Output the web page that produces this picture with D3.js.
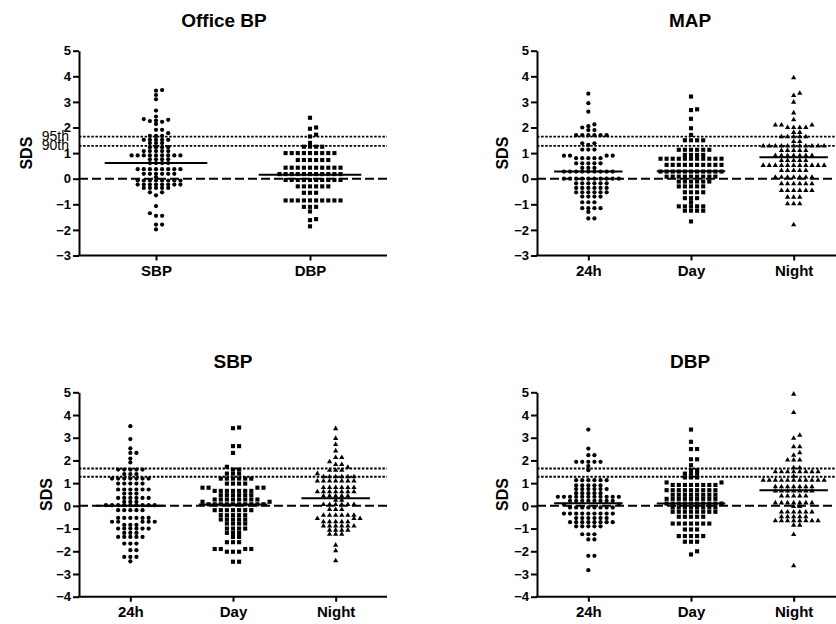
<!DOCTYPE html>
<html>
<head>
<meta charset="utf-8">
<script src="https://cdn.jsdelivr.net/npm/d3@7/dist/d3.min.js"></script>
<style>
  body { margin: 0; background: #fff; }
  text { font-family: 'Liberation Sans', Arial, sans-serif; fill: #000; }
</style>
</head>
<body>
<svg id="chart" width="836" height="624"></svg>
<script>
// categories and ticks
const officeCats = ['SBP', 'DBP']
const ambCats = ['24h', 'Day', 'Night']
const ticksA = [-3, -2, -1, 0, 1, 2, 3, 4, 5]
const ticksB = [-4, -3, -2, -1, 0, 1, 2, 3, 4, 5]
const percentiles = [1.645, 1.282]
const percentileLabels = ['95th', '90th']

// SDS values
const officeSBP = [3.46, 3.44, 3.27, 3.10, 2.66, 2.43,
  2.33, 2.30, 2.27, 2.25, 2.22, 2.14, 1.91, 1.91, 1.78, 1.67, 1.67, 1.67,
  1.52, 1.52, 1.52, 1.52, 1.52, 1.39, 1.39, 1.39, 1.23, 1.23, 1.23, 1.23,
  1.08, 1.08, 1.08, 1.08, 1.08, 0.91, 0.91, 0.91, 0.91, 0.91, 0.91, 0.91, 0.91, 0.91,
  0.76, 0.76, 0.76, 0.76, 0.61, 0.61, 0.61, 0.61,
  0.37, 0.37, 0.37, 0.37, 0.37, 0.37, 0.37, 0.37, 0.19, 0.19, 0.19, 0.19, 0.19, 0.19, 0.06,
  -0.07, -0.07, -0.07, -0.07, -0.07, -0.07, -0.07, -0.07,
  -0.23, -0.23, -0.23, -0.23, -0.23, -0.23, -0.23, -0.23,
  -0.36, -0.36, -0.36, -0.36, -0.36, -0.53, -0.53, -0.65,
  -1.07, -1.35, -1.45, -1.45, -1.79, -1.79, -1.98]
const officeDBP = [2.38, 2.0, 1.95, 1.72, 1.65, 1.4, 1.25, 1.25, 1.25, 1.25,
  1.0, 1.0, 1.0, 1.0, 1.0, 1.0, 1.0, 1.0, 1.0, 0.73, 0.73, 0.73, 0.73, 0.73, 0.73,
  0.43, 0.43, 0.43, 0.43, 0.43, 0.43, 0.43, 0.43, 0.43, 0.43,
  0.18, 0.18, 0.18, 0.18, 0.18, 0.18, 0.18, 0.18, 0.18, 0.18, 0.18,
  -0.05, -0.05, -0.05, -0.05, -0.05, -0.05, -0.05, -0.05, -0.05, -0.05,
  -0.3, -0.3, -0.3, -0.3, -0.3, -0.3, -0.55, -0.55, -0.55,
  -0.85, -0.85, -0.85, -0.85, -0.85, -0.85, -0.85, -0.85, -0.85, -0.85,
  -1.1, -1.1, -1.1, -1.28, -1.58, -1.62, -1.86]

const map24h = [3.32, 2.95, 2.62, 2.12, 2.05, 2.0, 1.9, 1.9,
  1.7, 1.7, 1.7, 1.7, 1.7, 1.7, 1.38, 1.38, 1.32, 1.14, 1.14, 1.14,
  0.9, 0.9, 0.9, 0.9, 0.8, 0.8, 0.8, 0.8, 0.8, 0.6, 0.6, 0.6, 0.6, 0.6, 0.42, 0.42, 0.42,
  0.28, 0.28, 0.28, 0.28, 0.28, 0.28, 0.28, 0.28, 0.28,
  0.0, 0.0, 0.0, 0.0, 0.0, 0.0, 0.0, 0.0, 0.0, 0.0,
  -0.18, -0.18, -0.18, -0.18, -0.18, -0.18, -0.36, -0.36, -0.36, -0.36, -0.36, -0.36,
  -0.53, -0.53, -0.53, -0.53, -0.53, -0.53, -0.7, -0.7, -0.7, -0.7, -0.92, -0.92, -0.92,
  -1.15, -1.15, -1.15, -1.15, -1.3, -1.55, -1.55]
const mapDay = [3.21, 2.71, 2.68, 2.34, 1.97, 1.71, 1.5, 1.5, 1.5, 1.5,
  1.13, 1.13, 1.13, 1.13, 1.13, 1.13, 0.93, 0.93, 0.93, 0.93,
  0.78, 0.78, 0.78, 0.78, 0.78, 0.78, 0.78, 0.78, 0.78, 0.78, 0.78,
  0.54, 0.54, 0.54, 0.54, 0.54, 0.54, 0.54, 0.54, 0.54, 0.54,
  0.28, 0.28, 0.28, 0.28, 0.28, 0.28, 0.28, 0.28, 0.28, 0.28, 0.28,
  0.08, 0.08, 0.08, 0.08, 0.08, 0.08, 0.08, 0.08, 0.08,
  -0.11, -0.11, -0.11, -0.11, -0.11, -0.11, -0.3, -0.3, -0.3, -0.3, -0.3,
  -0.53, -0.53, -0.53, -0.53, -0.76, -0.76, -0.76, -0.92,
  -1.08, -1.08, -1.08, -1.08, -1.08, -1.25, -1.25, -1.25, -1.25, -1.67]
const mapNight = [3.94, 3.34, 3.25, 2.99, 2.57, 2.30, 2.1, 2.1, 2.1, 2.0, 2.0, 2.0, 2.0,
  1.81, 1.81, 1.64, 1.64, 1.64, 1.64, 1.64, 1.45, 1.45,
  1.28, 1.28, 1.28, 1.28, 1.28, 1.28, 1.28, 1.28, 1.28, 1.28, 1.28,
  1.1, 1.1, 1.1, 1.1, 1.1, 0.9, 0.9, 0.9, 0.9, 0.9, 0.9, 0.9,
  0.71, 0.71, 0.71, 0.71, 0.71,
  0.52, 0.52, 0.52, 0.52, 0.52, 0.52, 0.52, 0.52, 0.52, 0.52, 0.52,
  0.32, 0.32, 0.32, 0.32, 0.32, 0.06, 0.06, 0.06, 0.06, 0.06, 0.06, 0.06,
  -0.2, -0.2, -0.2, -0.2, -0.2, -0.2, -0.46, -0.46, -0.46, -0.46, -0.46, -0.46,
  -0.72, -0.72, -0.72, -0.98, -0.98, -0.98, -1.8]

const sbp24h = [3.51, 2.94, 2.53, 2.33, 2.33, 2.08, 1.91, 1.6, 1.6, 1.6, 1.6, 1.6,
  1.4, 1.4, 1.4, 1.2, 1.2, 1.2, 1.2, 1.2, 1.2, 1.2, 0.98, 0.98, 0.98, 0.98, 0.98,
  0.72, 0.72, 0.72, 0.72, 0.72, 0.72, 0.54, 0.54, 0.54, 0.35, 0.35, 0.35, 0.35, 0.35, 0.35,
  0.18, 0.18, 0.18, 0.03, 0.03, 0.03, 0.03, 0.03, 0.03, 0.03, 0.03, 0.03,
  -0.19, -0.19, -0.19, -0.19, -0.19, -0.53, -0.53, -0.53, -0.53, -0.53, -0.53,
  -0.7, -0.7, -0.7, -0.7, -0.7, -0.84, -0.84, -0.84,
  -1.0, -1.0, -1.0, -1.0, -1.0, -1.0, -1.19, -1.19, -1.19,
  -1.37, -1.37, -1.37, -1.37, -1.37, -1.66, -1.66, -1.66, -1.95, -1.95,
  -2.25, -2.25, -2.25, -2.44]
const sbpDay = [3.45, 3.42, 2.63, 2.63, 2.33, 1.72, 1.6, 1.6, 1.42, 1.42, 1.42,
  1.2, 1.2, 1.2, 1.2, 1.2, 1.2, 0.98, 0.98, 0.98, 0.98, 0.8, 0.8, 0.8, 0.8,
  0.66, 0.66, 0.66, 0.66, 0.66, 0.66, 0.66, 0.47, 0.47, 0.47, 0.47, 0.47, 0.47,
  0.28, 0.28, 0.28, 0.28, 0.28, 0.28, 0.28, 0.28, 0.18, 0.18,
  0.07, 0.07, 0.07, 0.07, 0.07, 0.07, 0.07, 0.07, 0.07, 0.07,
  -0.19, -0.19, -0.19, -0.19, -0.19, -0.19, -0.19, -0.41, -0.41, -0.41, -0.41, -0.41,
  -0.6, -0.6, -0.6, -0.6, -0.6, -0.78, -0.78, -0.78, -0.78, -1.0, -1.0, -1.0, -1.0,
  -1.19, -1.19, -1.19, -1.37, -1.37, -1.6, -1.6, -1.6,
  -1.9, -1.9, -1.9, -1.9, -2.02, -2.02, -2.02, -2.46, -2.46]
const sbpNight = [3.4, 2.97, 2.7, 2.42, 2.13, 2.13, 1.94, 1.82, 1.82, 1.7, 1.57, 1.57, 1.57, 1.42,
  1.28, 1.28, 1.28, 1.28, 1.28, 1.28, 1.09, 1.09, 1.09, 1.09, 1.09, 1.09, 1.09,
  0.81, 0.81, 0.81, 0.81, 0.81, 0.81, 0.62, 0.62, 0.62, 0.62, 0.62, 0.62, 0.62,
  0.43, 0.43, 0.43, 0.43, 0.43, 0.25, 0.25, 0.06, 0.06, 0.06, 0.06, 0.06, 0.06,
  -0.16, -0.16, -0.16, -0.41, -0.41, -0.41, -0.41, -0.41, -0.41, -0.56, -0.56, -0.56,
  -0.7, -0.7, -0.7, -0.7, -0.7, -0.89, -0.89, -0.89, -0.89, -0.89, -0.89,
  -1.07, -1.07, -1.07, -1.07, -1.25, -1.25, -1.25, -1.73, -1.98, -2.42]

const dbp24h = [3.36, 2.52, 2.23, 2.23, 1.94, 1.94, 1.94, 1.94, 1.94, 1.75, 1.57,
  1.13, 1.13, 1.13, 1.13, 1.13, 1.13, 0.9, 0.9, 0.9, 0.9, 0.9,
  0.74, 0.74, 0.74, 0.74, 0.74, 0.74, 0.56, 0.56, 0.56, 0.56, 0.56,
  0.4, 0.4, 0.4, 0.4, 0.4, 0.4, 0.4, 0.4, 0.4, 0.4, 0.4,
  0.22, 0.22, 0.22, 0.22, 0.22, 0.22, 0.22, 0.22, 0.06, 0.06,
  -0.07, -0.07, -0.07, -0.07, -0.07, -0.07, -0.07, -0.07,
  -0.34, -0.34, -0.34, -0.34, -0.34, -0.34, -0.34, -0.34, -0.34,
  -0.54, -0.54, -0.54, -0.54, -0.54, -0.54, -0.72, -0.72, -0.72, -0.72, -0.72, -0.72, -0.72, -0.72,
  -0.9, -0.9, -0.9, -0.9, -0.9, -1.25, -1.25, -1.25, -1.48, -1.48, -2.2, -2.2, -2.83]
const dbpDay = [3.36, 2.82, 2.5, 2.5, 2.05, 2.05, 1.79, 1.57, 1.57, 1.42, 1.42, 1.42,
  1.25, 1.25, 1.25, 1.03, 1.03, 0.92, 0.92, 0.92, 0.92, 0.92, 0.92, 0.92, 0.92,
  0.69, 0.69, 0.69, 0.69, 0.69, 0.69, 0.69, 0.69, 0.69,
  0.49, 0.49, 0.49, 0.49, 0.49, 0.49, 0.49, 0.49, 0.31, 0.31, 0.31, 0.31, 0.31, 0.31, 0.31, 0.31, 0.31,
  0.1, 0.1, 0.1, 0.1, 0.1, 0.1, 0.1, 0.1, 0.1, 0.1,
  -0.07, -0.07, -0.07, -0.07, -0.07, -0.07, -0.07, -0.07,
  -0.26, -0.26, -0.26, -0.26, -0.26, -0.26, -0.26, -0.26, -0.48, -0.48, -0.48, -0.48, -0.48,
  -0.78, -0.78, -0.78, -0.78, -0.78, -0.78, -0.78, -1.04, -1.04, -1.04,
  -1.33, -1.33, -1.33, -1.33, -1.33, -1.58, -1.58, -1.58, -2.0, -2.14]
const dbpNight = [4.92, 4.11, 3.11, 2.98, 2.6, 2.6, 2.34, 2.23, 2.02, 2.02, 2.02, 1.68, 1.68,
  1.5, 1.5, 1.5, 1.5, 1.5, 1.5, 1.5, 1.5, 1.3,
  1.13, 1.13, 1.13, 1.13, 1.13, 1.13, 1.13, 1.13, 1.13, 1.13, 1.13,
  0.84, 0.84, 0.84, 0.84, 0.84, 0.84, 0.84, 0.65, 0.65, 0.65, 0.65, 0.65, 0.65, 0.65,
  0.43, 0.43, 0.43, 0.43, 0.43, 0.13, 0.13, 0.13, 0.13, 0.13, 0.13, 0.13, -0.03, -0.03,
  -0.27, -0.27, -0.27, -0.27, -0.27, -0.27, -0.48, -0.48, -0.48, -0.48, -0.48,
  -0.66, -0.66, -0.66, -0.66, -0.66, -0.66, -0.66, -0.66, -0.85, -0.85, -1.26, -2.64]

// the horizontal line in each column
const officeMeans = [0.61, 0.15]
const mapMeans = [0.28, 0.29, 0.84]
const sbpMeans = [0.0, 0.06, 0.33]
const dbpMeans = [0.12, 0.10, 0.69]

const panels = [
  { title: 'Office BP', cats: officeCats, series: [officeSBP, officeDBP], means: officeMeans,
    ticks: ticksA, left: 79, right: 387, top: 50.7, bottom: 255.5, titleX: 224, titleY: 26.5, labelX: 32, pct: true },
  { title: 'MAP', cats: ambCats, series: [map24h, mapDay, mapNight], means: mapMeans,
    ticks: ticksA, left: 537, right: 845, top: 50.7, bottom: 255.5, titleX: 690, titleY: 26.5, labelX: 508 },
  { title: 'SBP', cats: ambCats, series: [sbp24h, sbpDay, sbpNight], means: sbpMeans,
    ticks: ticksB, left: 79, right: 387, top: 392.3, bottom: 596.7, titleX: 233, titleY: 368, labelX: 52 },
  { title: 'DBP', cats: ambCats, series: [dbp24h, dbpDay, dbpNight], means: dbpMeans,
    ticks: ticksB, left: 537, right: 845, top: 392.3, bottom: 596.7, titleX: 690, titleY: 368, labelX: 508 }
]

const symbols = [
  d3.symbol().type(d3.symbolCircle).size(14),
  d3.symbol().type(d3.symbolSquare).size(17),
  d3.symbol().type(d3.symbolTriangle).size(12)
]

const svg = d3.select('#chart')

// column layout like a scatter dot plot: each point goes into the nearest free slot
function swarm(values, y, cx, step, minDy) {
  const placed = []
  return values.slice().sort((a, b) => a - b).map(v => {
    const py = y(v)
    let k = 0
    for (let i = 0; ; i++) {
      k = i === 0 ? 0 : (i % 2 ? (i + 1) / 2 : -i / 2)
      if (!placed.some(p => p.k === k && Math.abs(p.y - py) < minDy)) break
    }
    placed.push({ k: k, y: py })
    return { x: cx + k * step, y: py }
  })
}

panels.forEach(p => {
  const y = d3.scaleLinear()
    .domain([p.ticks[0], p.ticks[p.ticks.length - 1]])
    .range([p.bottom, p.top])
  const x = d3.scalePoint()
    .domain(p.cats)
    .range([p.left, p.right])
    .padding(0.5)

  const g = svg.append('g')

  // reference lines
  g.append('line')
    .attr('x1', p.left).attr('x2', p.right)
    .attr('y1', y(0)).attr('y2', y(0))
    .attr('stroke', '#000').attr('stroke-width', 2)
    .attr('stroke-dasharray', '9,4')
  g.selectAll('.pct')
    .data(percentiles)
    .enter()
    .append('line')
    .attr('class', 'pct')
    .attr('x1', p.left).attr('x2', p.right)
    .attr('y1', d => y(d)).attr('y2', d => y(d))
    .attr('stroke', '#000').attr('stroke-width', 1.8)
    .attr('stroke-dasharray', '2.5,1.6')

  // points
  p.series.forEach((vals, i) => {
    const pts = swarm(vals, y, x(p.cats[i]), 6.1, 3.2)
    g.selectAll('.pt' + i)
      .data(pts)
      .enter()
      .append('path')
      .attr('class', 'pt' + i)
      .attr('d', symbols[i])
      .attr('transform', d => 'translate(' + d.x + ',' + d.y + ')')
      .attr('fill', '#000')
  })

  // mean lines
  g.selectAll('.mean')
    .data(p.means)
    .enter()
    .append('line')
    .attr('class', 'mean')
    .attr('x1', (d, i) => x(p.cats[i]) - x.step() / 3)
    .attr('x2', (d, i) => x(p.cats[i]) + x.step() / 3)
    .attr('y1', d => y(d)).attr('y2', d => y(d))
    .attr('stroke', '#000').attr('stroke-width', 2)

  // axes
  const yAxis = d3.axisLeft(y).tickValues(p.ticks).tickSize(6).tickSizeOuter(0).tickPadding(2)
  const ya = g.append('g')
    .attr('transform', 'translate(' + p.left + ',0)')
    .call(yAxis)
  ya.selectAll('path, line').attr('stroke', '#000').attr('stroke-width', 2)
  ya.selectAll('text').attr('font-size', 13).attr('font-weight', 'bold').attr('fill', '#000')

  const xAxis = d3.axisBottom(x).tickSize(5).tickSizeOuter(0).tickPadding(5)
  const xa = g.append('g')
    .attr('transform', 'translate(0,' + p.bottom + ')')
    .call(xAxis)
  xa.select('.domain').attr('d', 'M' + (p.left - 1) + ',0H' + p.right)
  xa.selectAll('path, line').attr('stroke', '#000').attr('stroke-width', 2)
  xa.selectAll('text').attr('font-size', 15).attr('font-weight', 'bold').attr('fill', '#000')

  // title and y label
  g.append('text')
    .attr('x', p.titleX).attr('y', p.titleY)
    .attr('text-anchor', 'middle')
    .attr('font-size', 19).attr('font-weight', 'bold')
    .text(p.title)
  g.append('text')
    .attr('transform', 'translate(' + p.labelX + ',' + ((p.top + p.bottom) / 2) + ') rotate(-90)')
    .attr('text-anchor', 'middle')
    .attr('font-size', 16).attr('font-weight', 'bold')
    .text('SDS')

  if (p.pct) {
    g.selectAll('.pctlab')
      .data(percentiles)
      .enter()
      .append('text')
      .attr('class', 'pctlab')
      .attr('x', 69)
      .attr('y', d => y(d) + 4.5)
      .attr('text-anchor', 'end')
      .attr('font-size', 14)
      .text((d, i) => percentileLabels[i])
  }
})
</script>
</body>
</html>
